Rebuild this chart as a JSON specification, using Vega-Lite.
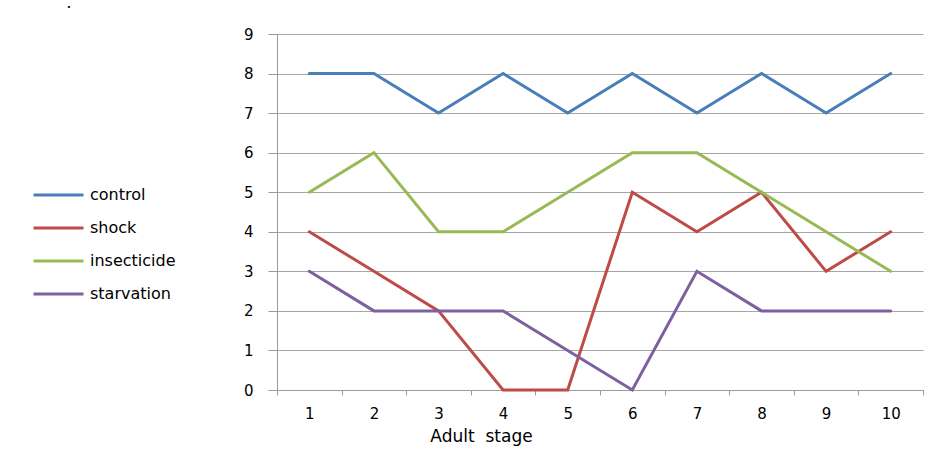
{
  "$schema": "https://vega.github.io/schema/vega-lite/v6.json",
  "autosize": "none",
  "width": 646,
  "height": 356,
  "padding": {"left": 277, "top": 34, "right": 24, "bottom": 77},
  "background": "white",
  "title": {
    "text": ".",
    "anchor": "start",
    "frame": "group",
    "dx": -210,
    "offset": 17,
    "fontSize": 10,
    "font": "DejaVu Sans",
    "fontWeight": "bold",
    "color": "#000000"
  },
  "config": {
    "view": {"stroke": null},
    "font": "DejaVu Sans",
    "axis": {
      "labelFont": "DejaVu Sans",
      "labelFontSize": 15,
      "labelColor": "#000000",
      "domainColor": "#9a9a9a",
      "tickColor": "#9a9a9a",
      "gridColor": "#a6a6a6",
      "domainWidth": 1,
      "tickWidth": 1,
      "gridWidth": 1
    }
  },
  "data": {
    "values": [
      {"stage": 1, "series": "control", "value": 8},
      {"stage": 2, "series": "control", "value": 8},
      {"stage": 3, "series": "control", "value": 7},
      {"stage": 4, "series": "control", "value": 8},
      {"stage": 5, "series": "control", "value": 7},
      {"stage": 6, "series": "control", "value": 8},
      {"stage": 7, "series": "control", "value": 7},
      {"stage": 8, "series": "control", "value": 8},
      {"stage": 9, "series": "control", "value": 7},
      {"stage": 10, "series": "control", "value": 8},
      {"stage": 1, "series": "shock", "value": 4},
      {"stage": 2, "series": "shock", "value": 3},
      {"stage": 3, "series": "shock", "value": 2},
      {"stage": 4, "series": "shock", "value": 0},
      {"stage": 5, "series": "shock", "value": 0},
      {"stage": 6, "series": "shock", "value": 5},
      {"stage": 7, "series": "shock", "value": 4},
      {"stage": 8, "series": "shock", "value": 5},
      {"stage": 9, "series": "shock", "value": 3},
      {"stage": 10, "series": "shock", "value": 4},
      {"stage": 1, "series": "insecticide", "value": 5},
      {"stage": 2, "series": "insecticide", "value": 6},
      {"stage": 3, "series": "insecticide", "value": 4},
      {"stage": 4, "series": "insecticide", "value": 4},
      {"stage": 5, "series": "insecticide", "value": 5},
      {"stage": 6, "series": "insecticide", "value": 6},
      {"stage": 7, "series": "insecticide", "value": 6},
      {"stage": 8, "series": "insecticide", "value": 5},
      {"stage": 9, "series": "insecticide", "value": 4},
      {"stage": 10, "series": "insecticide", "value": 3},
      {"stage": 1, "series": "starvation", "value": 3},
      {"stage": 2, "series": "starvation", "value": 2},
      {"stage": 3, "series": "starvation", "value": 2},
      {"stage": 4, "series": "starvation", "value": 2},
      {"stage": 5, "series": "starvation", "value": 1},
      {"stage": 6, "series": "starvation", "value": 0},
      {"stage": 7, "series": "starvation", "value": 3},
      {"stage": 8, "series": "starvation", "value": 2},
      {"stage": 9, "series": "starvation", "value": 2},
      {"stage": 10, "series": "starvation", "value": 2}
    ]
  },
  "mark": {"type": "line", "strokeWidth": 3, "strokeJoin": "miter", "strokeCap": "round"},
  "encoding": {
    "x": {
      "field": "stage",
      "type": "ordinal",
      "scale": {"type": "band", "paddingInner": 0, "paddingOuter": 0},
      "axis": {
        "labelAngle": 0,
        "tickBand": "extent",
        "tickSize": 5,
        "labelPadding": 11,
        "grid": false,
        "title": "Adult\u00a0\u00a0stage",
        "titleFont": "DejaVu Sans",
        "titleFontSize": 17,
        "titleFontWeight": "normal",
        "titleColor": "#000000",
        "titleX": 204,
        "titleAnchor": "middle",
        "titleAlign": "center",
        "titleY": 51,
        "titleBaseline": "alphabetic"
      }
    },
    "y": {
      "field": "value",
      "type": "quantitative",
      "scale": {"domain": [0, 9], "nice": false},
      "axis": {
        "values": [0, 1, 2, 3, 4, 5, 6, 7, 8, 9],
        "tickSize": 9,
        "labelPadding": 15,
        "grid": true,
        "title": null
      }
    },
    "color": {
      "field": "series",
      "type": "nominal",
      "sort": ["control", "shock", "insecticide", "starvation"],
      "scale": {
        "domain": ["control", "shock", "insecticide", "starvation"],
        "range": ["#4a7ebb", "#be4b48", "#98b954", "#7d60a0"]
      },
      "legend": {
        "title": null,
        "orient": "none",
        "legendX": -245,
        "legendY": 151,
        "symbolType": "stroke",
        "symbolSize": 2500,
        "symbolStrokeWidth": 3,
        "clipHeight": 20,
        "labelFont": "DejaVu Sans",
        "labelFontSize": 16,
        "labelColor": "#000000",
        "labelOffset": 5,
        "rowPadding": 13,
        "padding": 0
      }
    }
  }
}
